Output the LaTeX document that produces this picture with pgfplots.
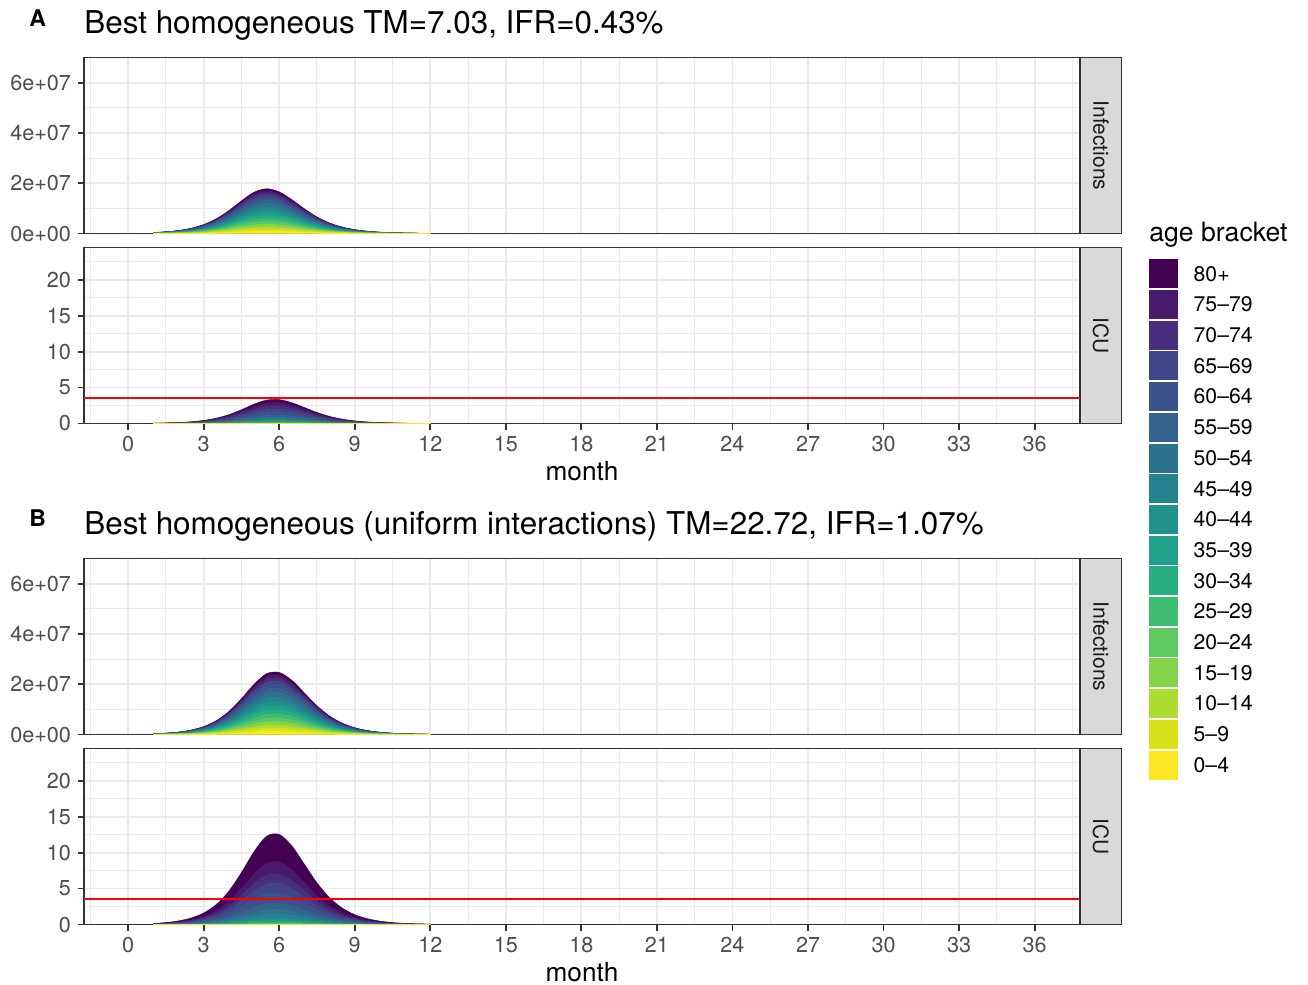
\documentclass[border=0pt]{standalone}
\usepackage{fontspec}
\setmainfont{TeX Gyre Heros}
\usepackage{pgfplots}
\pgfplotsset{compat=1.18}
\usepackage{pgfplotstable}

\definecolor{v1}{HTML}{FDE725}
\definecolor{v2}{HTML}{D8E219}
\definecolor{v3}{HTML}{ADDC30}
\definecolor{v4}{HTML}{84D44B}
\definecolor{v5}{HTML}{5EC962}
\definecolor{v6}{HTML}{3FBC73}
\definecolor{v7}{HTML}{28AE80}
\definecolor{v8}{HTML}{1FA088}
\definecolor{v9}{HTML}{21918C}
\definecolor{v10}{HTML}{26828E}
\definecolor{v11}{HTML}{2C728E}
\definecolor{v12}{HTML}{33638D}
\definecolor{v13}{HTML}{3B528B}
\definecolor{v14}{HTML}{414487}
\definecolor{v15}{HTML}{472F7D}
\definecolor{v16}{HTML}{481A6C}
\definecolor{v17}{HTML}{440154}
\definecolor{gridc}{HTML}{EBEBEB}
\definecolor{grey20}{HTML}{333333}
\definecolor{grey30}{HTML}{4D4D4D}
\definecolor{grey10}{HTML}{1A1A1A}
\definecolor{stripc}{HTML}{D9D9D9}

% columns c1 (0-4) ... c17 (80+)
\pgfplotstableread{
x c1 c2 c3 c4 c5 c6 c7 c8 c9 c10 c11 c12 c13 c14 c15 c16 c17
1.0 19600 19600 19600 21600 23500 25500 25500 25500 25500 27400 29400 27400 23500 21600 19600 17600 19600
1.5 34300 34300 34300 37700 41100 44500 44500 44500 44500 48000 51400 48000 41100 37700 34300 30800 34300
2.0 60200 60200 60200 66200 72200 78200 78200 78200 78200 84200 90200 84200 72200 66200 60200 54100 60200
2.5 104200 104200 104200 114600 125000 135400 135400 135400 135400 145800 156200 145800 125000 114600 104200 93700 104200
3.0 177600 177600 177600 195300 213100 230800 230800 230800 230800 248600 266300 248600 213100 195300 177600 159800 177600
3.5 291900 291900 291900 321100 350300 379500 379500 379500 379500 408700 437900 408700 350300 321100 291900 262700 291900
4.0 453900 453900 453900 499300 544700 590100 590100 590100 590100 635500 680900 635500 544700 499300 453900 408500 453900
4.5 647900 647900 647900 712700 777500 842300 842300 842300 842300 907100 971900 907100 777500 712700 647900 583100 647900
5.0 819700 819700 819700 901700 983600 1065600 1065600 1065600 1065600 1147600 1229600 1147600 983600 901700 819700 737700 819700
5.5 890000 890000 890000 979000 1068000 1157000 1157000 1157000 1157000 1246000 1335000 1246000 1068000 979000 890000 801000 890000
6.0 828200 828200 828200 911000 993800 1076600 1076600 1076600 1076600 1159400 1242200 1159400 993800 911000 828200 745300 828200
6.5 673300 673300 673300 740600 808000 875300 875300 875300 875300 942600 1010000 942600 808000 740600 673300 606000 673300
7.0 490400 490400 490400 539400 588500 637500 637500 637500 637500 686600 735600 686600 588500 539400 490400 441400 490400
7.5 329300 329300 329300 362200 395200 428100 428100 428100 428100 461000 494000 461000 395200 362200 329300 296400 329300
8.0 209600 209600 209600 230600 251500 272500 272500 272500 272500 293400 314400 293400 251500 230600 209600 188600 209600
8.5 128700 128700 128700 141600 154400 167300 167300 167300 167300 180200 193100 180200 154400 141600 128700 115800 128700
9.0 77500 77500 77500 85200 92900 100700 100700 100700 100700 108400 116200 108400 92900 85200 77500 69700 77500
9.5 45900 45900 45900 50500 55100 59700 59700 59700 59700 64300 68900 64300 55100 50500 45900 41300 45900
10.0 27100 27100 27100 29800 32500 35200 35200 35200 35200 37900 40600 37900 32500 29800 27100 24300 27100
10.5 15900 15900 15900 17400 19000 20600 20600 20600 20600 22200 23800 22200 19000 17400 15900 14300 15900
11.0 9300 9300 9300 10200 11100 12000 12000 12000 12000 13000 13900 13000 11100 10200 9300 8300 9300
11.5 5500 5500 5500 6000 6500 7100 7100 7100 7100 7600 8200 7600 6500 6000 5500 4900 5500
12.0 3100 3100 3100 3400 3700 4000 4000 4000 4000 4300 4700 4300 3700 3400 3100 2800 3100
}\ainf

\pgfplotstableread{
x c1 c2 c3 c4 c5 c6 c7 c8 c9 c10 c11 c12 c13 c14 c15 c16 c17
1.0 0.0001 0.0001 0.0001 0.0001 0.0002 0.0005 0.0007 0.0012 0.0018 0.0024 0.0030 0.0035 0.0047 0.0053 0.0053 0.0053 0.0053
1.5 0.0002 0.0002 0.0002 0.0002 0.0004 0.0009 0.0013 0.0022 0.0032 0.0043 0.0054 0.0065 0.0086 0.0097 0.0097 0.0097 0.0097
2.0 0.0004 0.0004 0.0004 0.0004 0.0008 0.0016 0.0024 0.0039 0.0059 0.0078 0.0098 0.0118 0.0157 0.0176 0.0176 0.0176 0.0176
2.5 0.0007 0.0007 0.0007 0.0007 0.0014 0.0028 0.0042 0.0071 0.0106 0.0141 0.0177 0.0212 0.0283 0.0318 0.0318 0.0318 0.0318
3.0 0.0013 0.0013 0.0013 0.0013 0.0025 0.0050 0.0075 0.0126 0.0189 0.0252 0.0315 0.0377 0.0503 0.0566 0.0566 0.0566 0.0566
3.5 0.0022 0.0022 0.0022 0.0022 0.0044 0.0087 0.0131 0.0218 0.0327 0.0437 0.0546 0.0655 0.0873 0.0982 0.0982 0.0982 0.0982
4.0 0.0036 0.0036 0.0036 0.0036 0.0073 0.0146 0.0219 0.0365 0.0547 0.0729 0.0911 0.1094 0.1458 0.1640 0.1640 0.1640 0.1640
4.5 0.0057 0.0057 0.0057 0.0057 0.0114 0.0227 0.0341 0.0568 0.0852 0.1136 0.1420 0.1704 0.2272 0.2556 0.2556 0.2556 0.2556
5.0 0.0080 0.0080 0.0080 0.0080 0.0159 0.0319 0.0478 0.0797 0.1196 0.1594 0.1993 0.2391 0.3188 0.3587 0.3587 0.3587 0.3587
5.5 0.0097 0.0097 0.0097 0.0097 0.0194 0.0387 0.0581 0.0968 0.1451 0.1935 0.2419 0.2903 0.3870 0.4354 0.4354 0.4354 0.4354
6.0 0.0099 0.0099 0.0099 0.0099 0.0198 0.0395 0.0593 0.0988 0.1482 0.1976 0.2470 0.2963 0.3951 0.4445 0.4445 0.4445 0.4445
6.5 0.0086 0.0086 0.0086 0.0086 0.0173 0.0345 0.0518 0.0863 0.1294 0.1726 0.2157 0.2588 0.3451 0.3883 0.3883 0.3883 0.3883
7.0 0.0066 0.0066 0.0066 0.0066 0.0132 0.0264 0.0396 0.0660 0.0991 0.1321 0.1651 0.1981 0.2642 0.2972 0.2972 0.2972 0.2972
7.5 0.0046 0.0046 0.0046 0.0046 0.0091 0.0183 0.0274 0.0457 0.0685 0.0913 0.1141 0.1370 0.1826 0.2054 0.2054 0.2054 0.2054
8.0 0.0029 0.0029 0.0029 0.0029 0.0059 0.0118 0.0176 0.0294 0.0441 0.0588 0.0735 0.0882 0.1176 0.1323 0.1323 0.1323 0.1323
8.5 0.0018 0.0018 0.0018 0.0018 0.0036 0.0072 0.0108 0.0181 0.0271 0.0361 0.0452 0.0542 0.0723 0.0813 0.0813 0.0813 0.0813
9.0 0.0011 0.0011 0.0011 0.0011 0.0022 0.0043 0.0065 0.0108 0.0162 0.0216 0.0270 0.0324 0.0432 0.0486 0.0486 0.0486 0.0486
9.5 0.0006 0.0006 0.0006 0.0006 0.0013 0.0025 0.0038 0.0064 0.0095 0.0127 0.0159 0.0191 0.0254 0.0286 0.0286 0.0286 0.0286
10.0 0.0004 0.0004 0.0004 0.0004 0.0007 0.0015 0.0022 0.0037 0.0055 0.0074 0.0092 0.0111 0.0148 0.0166 0.0166 0.0166 0.0166
10.5 0.0002 0.0002 0.0002 0.0002 0.0004 0.0009 0.0013 0.0021 0.0032 0.0043 0.0053 0.0064 0.0085 0.0096 0.0096 0.0096 0.0096
11.0 0.0001 0.0001 0.0001 0.0001 0.0002 0.0005 0.0007 0.0012 0.0018 0.0025 0.0031 0.0037 0.0049 0.0055 0.0055 0.0055 0.0055
11.5 0.0001 0.0001 0.0001 0.0001 0.0001 0.0003 0.0004 0.0007 0.0011 0.0014 0.0018 0.0021 0.0028 0.0032 0.0032 0.0032 0.0032
12.0 0.0000 0.0000 0.0000 0.0000 0.0001 0.0002 0.0002 0.0004 0.0006 0.0008 0.0010 0.0012 0.0016 0.0018 0.0018 0.0018 0.0018
}\aicu

\pgfplotstableread{
x c1 c2 c3 c4 c5 c6 c7 c8 c9 c10 c11 c12 c13 c14 c15 c16 c17
1.0 14800 14800 14800 16200 17700 19200 19200 19200 19200 20700 22100 20700 17700 16200 14800 13300 14800
1.5 27000 27000 27000 29700 32400 35100 35100 35100 35100 37800 40500 37800 32400 29700 27000 24300 27000
2.0 49000 49000 49000 53900 58800 63700 63700 63700 63700 68600 73500 68600 58800 53900 49000 44100 49000
2.5 88400 88400 88400 97200 106100 114900 114900 114900 114900 123800 132600 123800 106100 97200 88400 79600 88400
3.0 157300 157300 157300 173000 188700 204400 204400 204400 204400 220200 235900 220200 188700 173000 157300 141500 157300
3.5 272900 272900 272900 300200 327500 354800 354800 354800 354800 382100 409400 382100 327500 300200 272900 245600 272900
4.0 455700 455700 455700 501200 546800 592300 592300 592300 592300 637900 683500 637900 546800 501200 455700 410100 455700
4.5 710000 710000 710000 781000 852000 923000 923000 923000 923000 994000 1065000 994000 852000 781000 710000 639000 710000
5.0 996300 996300 996300 1095900 1195500 1295100 1295100 1295100 1295100 1394800 1494400 1394800 1195500 1095900 996300 896600 996300
5.5 1209500 1209500 1209500 1330500 1451400 1572400 1572400 1572400 1572400 1693300 1814300 1693300 1451400 1330500 1209500 1088600 1209500
6.0 1234800 1234800 1234800 1358200 1481700 1605200 1605200 1605200 1605200 1728700 1852100 1728700 1481700 1358200 1234800 1111300 1234800
6.5 1078500 1078500 1078500 1186400 1294200 1402100 1402100 1402100 1402100 1509900 1617800 1509900 1294200 1186400 1078500 970700 1078500
7.0 825500 825500 825500 908100 990600 1073200 1073200 1073200 1073200 1155700 1238300 1155700 990600 908100 825500 743000 825500
7.5 570700 570700 570700 627700 684800 741800 741800 741800 741800 798900 856000 798900 684800 627700 570700 513600 570700
8.0 367400 367400 367400 404100 440900 477600 477600 477600 477600 514400 551100 514400 440900 404100 367400 330700 367400
8.5 225900 225900 225900 248500 271100 293700 293700 293700 293700 316300 338900 316300 271100 248500 225900 203300 225900
9.0 135000 135000 135000 148500 162000 175500 175500 175500 175500 189000 202500 189000 162000 148500 135000 121500 135000
9.5 79400 79400 79400 87300 95300 103200 103200 103200 103200 111200 119100 111200 95300 87300 79400 71500 79400
10.0 46200 46200 46200 50800 55400 60000 60000 60000 60000 64600 69200 64600 55400 50800 46200 41500 46200
10.5 26700 26700 26700 29300 32000 34600 34600 34600 34600 37300 40000 37300 32000 29300 26700 24000 26700
11.0 15400 15400 15400 16900 18500 20000 20000 20000 20000 21600 23100 21600 18500 16900 15400 13900 15400
11.5 8900 8900 8900 9800 10700 11600 11600 11600 11600 12500 13400 12500 10700 9800 8900 8000 8900
12.0 5200 5200 5200 5700 6200 6700 6700 6700 6700 7200 7700 7200 6200 5700 5200 4600 5200
}\binf

\pgfplotstableread{
x c1 c2 c3 c4 c5 c6 c7 c8 c9 c10 c11 c12 c13 c14 c15 c16 c17
1.0 0.0001 0.0001 0.0001 0.0002 0.0006 0.0012 0.0018 0.0024 0.0041 0.0059 0.0083 0.0106 0.0165 0.0165 0.0153 0.0201 0.0460
1.5 0.0002 0.0002 0.0002 0.0004 0.0011 0.0022 0.0032 0.0043 0.0076 0.0108 0.0151 0.0194 0.0302 0.0302 0.0281 0.0367 0.0842
2.0 0.0004 0.0004 0.0004 0.0008 0.0020 0.0039 0.0059 0.0078 0.0137 0.0196 0.0274 0.0353 0.0549 0.0549 0.0510 0.0666 0.1529
2.5 0.0007 0.0007 0.0007 0.0014 0.0035 0.0071 0.0106 0.0141 0.0247 0.0354 0.0495 0.0636 0.0990 0.0990 0.0919 0.1202 0.2757
3.0 0.0013 0.0013 0.0013 0.0025 0.0063 0.0126 0.0189 0.0252 0.0440 0.0629 0.0881 0.1132 0.1761 0.1761 0.1635 0.2139 0.4906
3.5 0.0022 0.0022 0.0022 0.0044 0.0109 0.0218 0.0327 0.0437 0.0764 0.1092 0.1528 0.1965 0.3056 0.3056 0.2838 0.3711 0.8514
4.0 0.0036 0.0036 0.0036 0.0073 0.0182 0.0365 0.0547 0.0729 0.1276 0.1823 0.2552 0.3281 0.5103 0.5103 0.4739 0.6197 1.4216
4.5 0.0057 0.0057 0.0057 0.0114 0.0284 0.0568 0.0852 0.1136 0.1988 0.2840 0.3976 0.5112 0.7952 0.7952 0.7384 0.9656 2.2152
5.0 0.0080 0.0080 0.0080 0.0159 0.0399 0.0797 0.1196 0.1594 0.2790 0.3985 0.5579 0.7173 1.1158 1.1158 1.0361 1.3549 3.1083
5.5 0.0097 0.0097 0.0097 0.0194 0.0484 0.0968 0.1451 0.1935 0.3387 0.4838 0.6773 0.8708 1.3546 1.3546 1.2579 1.6449 3.7736
6.0 0.0099 0.0099 0.0099 0.0198 0.0494 0.0988 0.1482 0.1976 0.3457 0.4939 0.6915 0.8890 1.3829 1.3829 1.2841 1.6793 3.8524
6.5 0.0086 0.0086 0.0086 0.0173 0.0431 0.0863 0.1294 0.1726 0.3020 0.4314 0.6040 0.7765 1.2079 1.2079 1.1216 1.4668 3.3649
7.0 0.0066 0.0066 0.0066 0.0132 0.0330 0.0660 0.0991 0.1321 0.2311 0.3302 0.4623 0.5944 0.9246 0.9246 0.8585 1.1227 2.5756
7.5 0.0046 0.0046 0.0046 0.0091 0.0228 0.0457 0.0685 0.0913 0.1598 0.2283 0.3196 0.4109 0.6391 0.6391 0.5935 0.7761 1.7804
8.0 0.0029 0.0029 0.0029 0.0059 0.0147 0.0294 0.0441 0.0588 0.1029 0.1470 0.2057 0.2645 0.4115 0.4115 0.3821 0.4996 1.1462
8.5 0.0018 0.0018 0.0018 0.0036 0.0090 0.0181 0.0271 0.0361 0.0632 0.0904 0.1265 0.1626 0.2530 0.2530 0.2349 0.3072 0.7047
9.0 0.0011 0.0011 0.0011 0.0022 0.0054 0.0108 0.0162 0.0216 0.0378 0.0540 0.0756 0.0972 0.1512 0.1512 0.1404 0.1836 0.4212
9.5 0.0006 0.0006 0.0006 0.0013 0.0032 0.0064 0.0095 0.0127 0.0222 0.0318 0.0445 0.0572 0.0889 0.0889 0.0826 0.1080 0.2477
10.0 0.0004 0.0004 0.0004 0.0007 0.0018 0.0037 0.0055 0.0074 0.0129 0.0185 0.0258 0.0332 0.0517 0.0517 0.0480 0.0627 0.1439
10.5 0.0002 0.0002 0.0002 0.0004 0.0011 0.0021 0.0032 0.0043 0.0075 0.0107 0.0149 0.0192 0.0298 0.0298 0.0277 0.0362 0.0831
11.0 0.0001 0.0001 0.0001 0.0002 0.0006 0.0012 0.0018 0.0025 0.0043 0.0062 0.0086 0.0111 0.0172 0.0172 0.0160 0.0209 0.0480
11.5 0.0001 0.0001 0.0001 0.0001 0.0004 0.0007 0.0011 0.0014 0.0025 0.0036 0.0050 0.0064 0.0099 0.0099 0.0092 0.0121 0.0277
12.0 0.0000 0.0000 0.0000 0.0001 0.0002 0.0004 0.0006 0.0008 0.0014 0.0021 0.0029 0.0037 0.0057 0.0057 0.0053 0.0070 0.0160
}\bicu

\pgfplotsset{
  panel/.style={
    scale only axis, width=498pt, height=88pt,
    xmin=-1.75, xmax=37.8, ymin=0,
    xtick={0,3,...,36}, minor xtick={-1.5,1.5,...,37.5},
    grid=both,
    major grid style={draw=gridc, line width=0.9pt},
    minor grid style={draw=gridc, line width=0.5pt},
    axis line style={draw=grey20, line width=0.9pt},
    tick align=outside, tick pos=left,
    major tick length=3pt, minor tick length=0pt,
    major tick style={draw=grey20, line width=0.9pt},
    tick label style={font=\fontsize{10.8}{13}\selectfont, text=grey30},
    /pgf/number format/assume math mode=true,
    scaled y ticks=false,
    stack plots=y,
    anchor=north west,
  },
  infpanel/.style={
    ymax=7e7, ytick={0,2e7,4e7,6e7},
    yticklabels={0e+00,2e+07,4e+07,6e+07},
    minor ytick={1e7,3e7,5e7},
    xticklabels={}, xtick style={draw=none},
    title style={at={(axis description cs:0,1.136)}, anchor=base west, yshift=-6pt,
      font=\fontsize{15.7}{18}\selectfont, inner sep=0pt},
  },
  icupanel/.style={
    ymax=24.5, ytick={0,5,...,20}, minor ytick={2.5,7.5,...,22.5},
    xlabel={month},
    xlabel style={at={(axis description cs:0.5,-0.324)}, anchor=base,
      font=\fontsize{13.1}{15}\selectfont, inner sep=0pt},
  },
  redpanel/.style={
    scale only axis, width=498pt, height=88pt, anchor=north west,
    xmin=-1.75, xmax=37.8, ymin=0, ymax=24.5, hide axis,
  },
}

\newcommand{\strip}[2]{%
  \draw[fill=stripc, draw=grey20, line width=0.5pt] (#1.north east) rectangle ([xshift=20.75pt]#1.south east);
  \node[rotate=-90, font=\fontsize{10.5}{12}\selectfont, text=grey10] at ([xshift=10.4pt]#1.east) {#2};
}

\begin{document}
\begin{tikzpicture}
\path[use as bounding box] (0,0) rectangle (654pt,-492.5pt);

% ---------- Panel A ----------
\begin{axis}[panel, infpanel, name=ainfax, at={(42pt,-28.75pt)},
  title={Best homogeneous TM=7.03, IFR=0.43\%}]
\pgfplotsinvokeforeach{1,...,17}{
  \addplot[fill=v#1, draw=v#1, line width=0.25pt, smooth] table[x=x, y=c#1]{\ainf} \closedcycle;
}
\end{axis}
\strip{ainfax}{Infections}

\begin{axis}[panel, icupanel, name=aicuax, at={(42pt,-123.75pt)}]
\pgfplotsinvokeforeach{1,...,17}{
  \addplot[fill=v#1, draw=v#1, line width=0.25pt, smooth] table[x=x, y=c#1]{\aicu} \closedcycle;
}
\end{axis}
\begin{axis}[redpanel, at={(42pt,-123.75pt)}]
\addplot[color=red, line width=1pt] coordinates {(-1.75,3.5) (37.8,3.5)};
\end{axis}
\strip{aicuax}{ICU}

% ---------- Panel B ----------
\begin{axis}[panel, infpanel, name=binfax, at={(42pt,-279.25pt)},
  title={Best homogeneous (uniform interactions) TM=22.72, IFR=1.07\%}]
\pgfplotsinvokeforeach{1,...,17}{
  \addplot[fill=v#1, draw=v#1, line width=0.25pt, smooth] table[x=x, y=c#1]{\binf} \closedcycle;
}
\end{axis}
\strip{binfax}{Infections}

\begin{axis}[panel, icupanel, name=bicuax, at={(42pt,-374.25pt)}]
\pgfplotsinvokeforeach{1,...,17}{
  \addplot[fill=v#1, draw=v#1, line width=0.25pt, smooth] table[x=x, y=c#1]{\bicu} \closedcycle;
}
\end{axis}
\begin{axis}[redpanel, at={(42pt,-374.25pt)}]
\addplot[color=red, line width=1pt] coordinates {(-1.75,3.5) (37.8,3.5)};
\end{axis}
\strip{bicuax}{ICU}

% panel letters
\node[anchor=base west, inner sep=0pt, font=\bfseries\fontsize{11.5}{13}\selectfont] at (14.5pt,-13pt) {A};
\node[anchor=base west, inner sep=0pt, font=\bfseries\fontsize{11.5}{13}\selectfont] at (14.5pt,-263.25pt) {B};

% legend
\node[anchor=base west, inner sep=0pt, font=\fontsize{13.3}{15}\selectfont] at (574.5pt,-120.85pt) {age bracket};
\foreach \c/\lab [count=\k from 0] in {17/80+,16/75–79,15/70–74,14/65–69,13/60–64,12/55–59,11/50–54,10/45–49,9/40–44,8/35–39,7/30–34,6/25–29,5/20–24,4/15–19,3/10–14,2/5–9,1/0–4}{
  \fill[v\c] (574.65pt,{-129.65pt-\k*15.35pt}) rectangle ++(14.5pt,-14.5pt);
  \node[anchor=west, inner sep=0pt, font=\fontsize{10.6}{12}\selectfont] at (596.65pt,{-136.9pt-\k*15.35pt}) {\lab};
}
\end{tikzpicture}
\end{document}
